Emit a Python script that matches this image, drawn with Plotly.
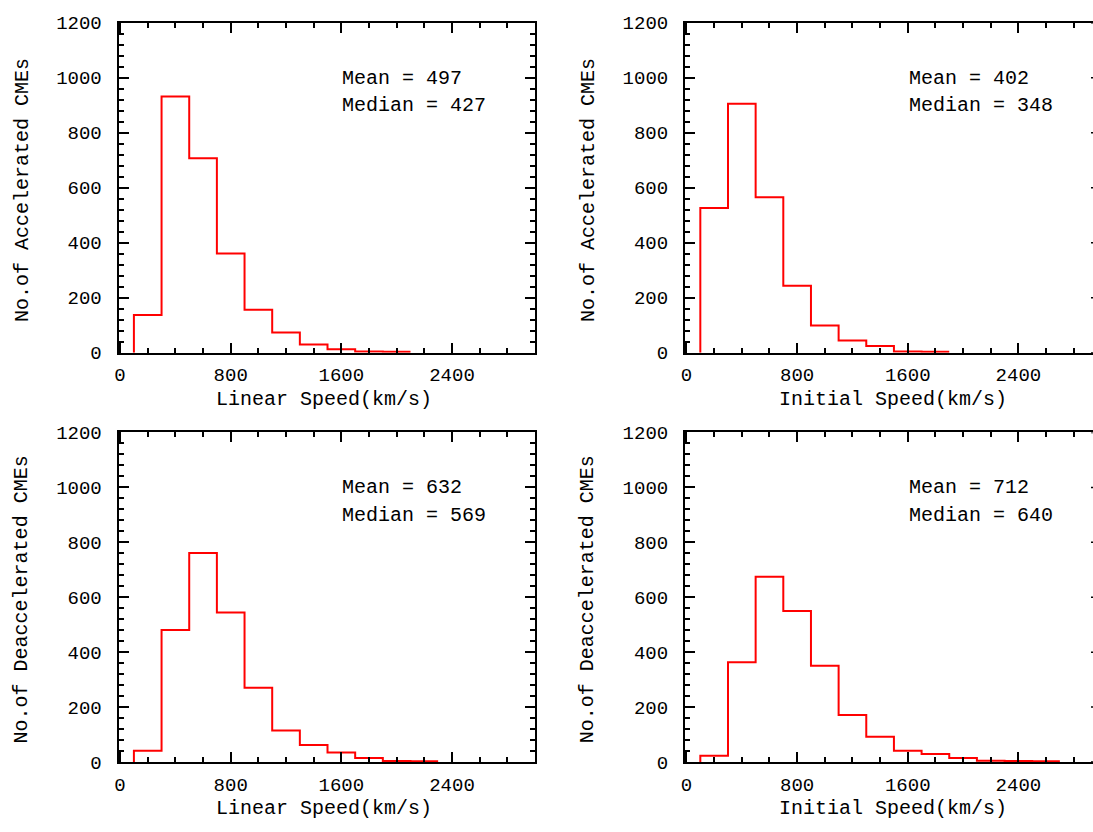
import plotly.graph_objects as go

# Histogram bins: 200 km/s wide, starting at 100 km/s
BIN_START = 100
BIN_WIDTH = 200

# Counts per bin
acc_linear_counts = [137, 931, 707, 361, 156, 73, 30, 12, 4, 3]
acc_initial_counts = [526, 905, 565, 243, 99, 44, 24, 4, 3]
dec_linear_counts = [41, 481, 761, 545, 271, 115, 62, 35, 15, 4, 3]
dec_initial_counts = [23, 363, 675, 550, 351, 171, 92, 41, 29, 15, 5, 4, 3]

# Summary statistics printed on each panel
acc_linear_stats = (497, 427)
acc_initial_stats = (402, 348)
dec_linear_stats = (632, 569)
dec_initial_stats = (712, 640)

x_titles = ["Linear Speed(km/s)", "Initial Speed(km/s)"]
y_titles = ["No.of Accelerated CMEs", "No.of Deaccelerated CMEs"]

W, H = 1093, 832
FONT = "Liberation Mono"


def px(x):
    return x / W


def py(y):
    return 1 - y / H


def step_xy(counts):
    edges = [BIN_START + i * BIN_WIDTH for i in range(len(counts) + 1)]
    xs = [edges[0]] + edges
    ys = [0] + list(counts) + [counts[-1]]
    return xs, ys


fig = go.Figure()

panels = [
    # (counts, stats, xaxis id, yaxis id, x domain px, y domain px, right side cut)
    (acc_linear_counts, acc_linear_stats, "x", "y", (115, 533), (353, 14), False),
    (acc_initial_counts, acc_initial_stats, "x2", "y2", (683.5, 1093), (353, 14), True),
    (dec_linear_counts, dec_linear_stats, "x3", "y3", (115, 533), (773.5, 435), False),
    (dec_initial_counts, dec_initial_stats, "x4", "y4", (683.5, 1093), (773.5, 435), True),
]

SCALE = 0.1388  # pixels per km/s

for i, (counts, stats, xa, ya, xd, yd, cut) in enumerate(panels):
    xs, ys = step_xy(counts)
    fig.add_trace(go.Scatter(
        x=xs, y=ys, mode="lines", line=dict(color="#ff0000", width=2, shape="hv"),
        xaxis=xa, yaxis=ya, showlegend=False, hoverinfo="skip",
    ))
    x0_px = xd[0] + 1.5
    xmin = -(x0_px - xd[0]) / SCALE
    xmax = xmin + (xd[1] - xd[0]) / SCALE
    axis_common = dict(
        showline=True, linecolor="black", linewidth=2,
        ticks="inside", ticklen=10, tickwidth=1.5, tickcolor="black",
        showgrid=False, zeroline=False,
        tickfont=dict(family=FONT, size=19, color="black"),
    )
    xkey = "xaxis" if xa == "x" else "xaxis" + xa[1:]
    ykey = "yaxis" if ya == "y" else "yaxis" + ya[1:]
    fig.update_layout(**{
        xkey: dict(
            axis_common, domain=[px(xd[0]), px(xd[1])], anchor=ya,
            range=[xmin, xmax], tick0=0, dtick=800, mirror="ticks",
            minor=dict(ticks="inside", ticklen=5, dtick=200, tick0=0,
                       tickwidth=1.5, tickcolor="black"),
            ticklabelstandoff=4,
        ),
        ykey: dict(
            axis_common, domain=[py(yd[0]), py(yd[1])], anchor=xa,
            range=[0, 1200], tick0=0, dtick=200,
            mirror=False if cut else "ticks",
            minor=dict(ticks="inside", ticklen=5, dtick=40, tick0=0,
                       tickwidth=1.5, tickcolor="black"),
            ticklabelstandoff=11,
        ),
    })

    left = xd[0] < 300
    col = 0 if left else 1
    row = 0 if yd[1] < 100 else 1
    tx = 337.7 if left else 906
    ty = 71 if row == 0 else 492
    mean, median = stats
    fig.add_annotation(x=px(tx), y=py(ty), xref="paper", yref="paper",
                       text=f"Mean = {mean}", showarrow=False,
                       xanchor="left", yanchor="middle",
                       font=dict(family=FONT, size=20, color="black"))
    fig.add_annotation(x=px(tx), y=py(ty + 28.3), xref="paper", yref="paper",
                       text=f"Median = {median}", showarrow=False,
                       xanchor="left", yanchor="middle",
                       font=dict(family=FONT, size=20, color="black"))

    # axis titles
    fig.add_annotation(x=px(321.5 if left else 892.5),
                       y=py(401 if row == 0 else 821.5),
                       xref="paper", yref="paper", text=x_titles[col],
                       showarrow=False, xanchor="center", yanchor="middle",
                       font=dict(family=FONT, size=20, color="black"))
    fig.add_annotation(x=px(18.5 if left else 586.5),
                       y=py(185.5 if row == 0 else 606),
                       xref="paper", yref="paper", text=y_titles[row],
                       textangle=-90, showarrow=False,
                       xanchor="center", yanchor="middle",
                       font=dict(family=FONT, size=20, color="black"))

    # tips of the right-hand major ticks that fall just inside the page
    if cut:
        for v in range(0, 1201, 200):
            fig.add_shape(type="line", xref="paper", yref=ya,
                          x0=px(1091), x1=1.0, y0=v, y1=v,
                          line=dict(color="black", width=1.5))

fig.update_layout(
    width=W, height=H,
    margin=dict(l=0, r=0, t=0, b=0),
    paper_bgcolor="white", plot_bgcolor="white",
)

fig.write_html("out.html")
